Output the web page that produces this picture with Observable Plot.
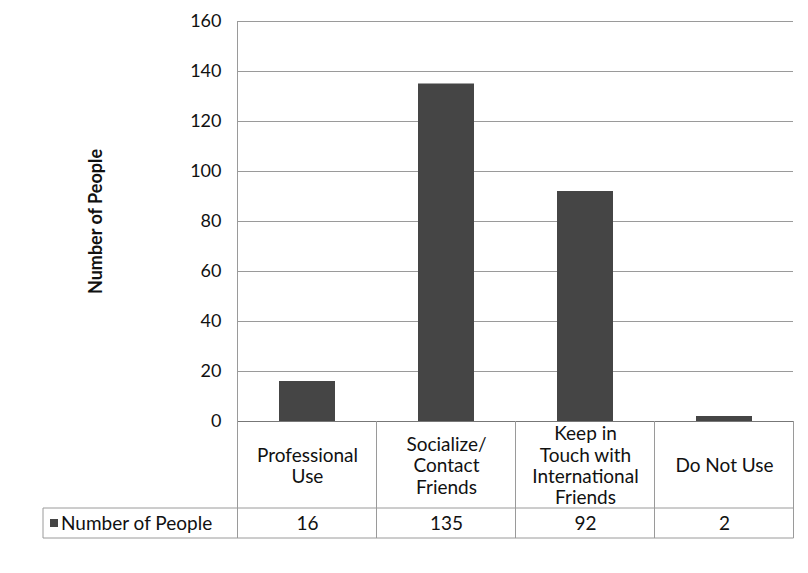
<!DOCTYPE html>
<html><head><meta charset="utf-8">
<script src="https://cdn.jsdelivr.net/npm/d3@7"></script>
<script src="https://cdn.jsdelivr.net/npm/@observablehq/plot@0.6"></script>
<style>body{margin:0;background:#fff} svg{display:block}</style>
</head><body><div id="chart"></div>
<script>
const categories = ["Professional Use", "Socialize/ Contact Friends", "Keep in Touch with International Friends", "Do Not Use"];
const categoryLines = ["Professional\nUse", "Socialize/\nContact\nFriends", "Keep in\nTouch with\nInternational\nFriends", "Do Not Use"];
const values = [16, 135, 92, 2];
const seriesName = "Number of People";
const yTitle = "Number of People";
const yTicks = [0, 20, 40, 60, 80, 100, 120, 140, 160];

const data = categories.map((c, i) => ({category: c, label: categoryLines[i], value: values[i]}));
const font = "Lato, 'Open Sans', sans-serif";
const barColor = "#454545";
const lineColor = "#9a9a9a";

const plot = Plot.plot({
  width: 808, height: 573,
  marginLeft: 237, marginRight: 15, marginTop: 21, marginBottom: 152,
  style: {fontFamily: font, fontSize: "19px", color: "#111", background: "#fff"},
  x: {domain: categories, paddingInner: 0.6, paddingOuter: 0.3, axis: null},
  y: {domain: [0, 160], axis: null},
  marks: [
    Plot.gridY(yTicks.filter(t => t > 0), {stroke: lineColor, strokeOpacity: 1}),
    Plot.axisY(yTicks, {tickSize: 0, tickPadding: 16, label: null, fontSize: 18}),
    Plot.barY(data, {x: "category", y: "value", fill: barColor}),
    Plot.ruleY([0], {stroke: "#777"}),
    Plot.text(data, {x: "category", y: 0, text: "label", dy: 44, lineHeight: 1.12, fontSize: 19}),
    Plot.text(data, {x: "category", y: 0, text: d => String(d.value), dy: 102, fontSize: 19}),
    Plot.text([yTitle], {frameAnchor: "left", textAnchor: "middle", rotate: -90, dx: -141, fontWeight: "bold", fontSize: 18, text: d => d})
  ]
});

const svg = d3.select(plot);
const xs = plot.scale("x"), ys = plot.scale("y");
const y0 = ys.apply(0), yTop = ys.apply(160);
const yRow = y0 + 87, yBot = y0 + 117;
const gap = (xs.step - xs.bandwidth) / 2;
const edges = categories.map(c => xs.apply(c) - gap);
edges.push(xs.apply(categories[categories.length - 1]) + xs.bandwidth + gap);
const tableLeft = 43;
const g = svg.append("g").attr("stroke", lineColor).attr("stroke-width", 1).attr("fill", "none");
// plot left border
g.append("line").attr("x1", edges[0]).attr("x2", edges[0]).attr("y1", yTop).attr("y2", yBot);
edges.slice(1).forEach(e => g.append("line").attr("x1", e).attr("x2", e).attr("y1", y0).attr("y2", yBot));
g.append("line").attr("x1", tableLeft).attr("x2", edges[edges.length - 1]).attr("y1", yRow).attr("y2", yRow);
g.append("line").attr("x1", tableLeft).attr("x2", edges[edges.length - 1]).attr("y1", yBot).attr("y2", yBot);
g.append("line").attr("x1", tableLeft).attr("x2", tableLeft).attr("y1", yRow).attr("y2", yBot);
// legend key
const ym = (yRow + yBot) / 2;
svg.append("rect").attr("x", 50).attr("y", ym - 4).attr("width", 8).attr("height", 8).attr("fill", barColor);
svg.append("text").attr("x", 61).attr("y", ym).attr("dy", "0.35em").attr("font-size", 19)
  .attr("text-anchor", "start").attr("fill", "#111").attr("font-family", font).text(seriesName);

document.getElementById("chart").appendChild(plot);
</script>
</body></html>
